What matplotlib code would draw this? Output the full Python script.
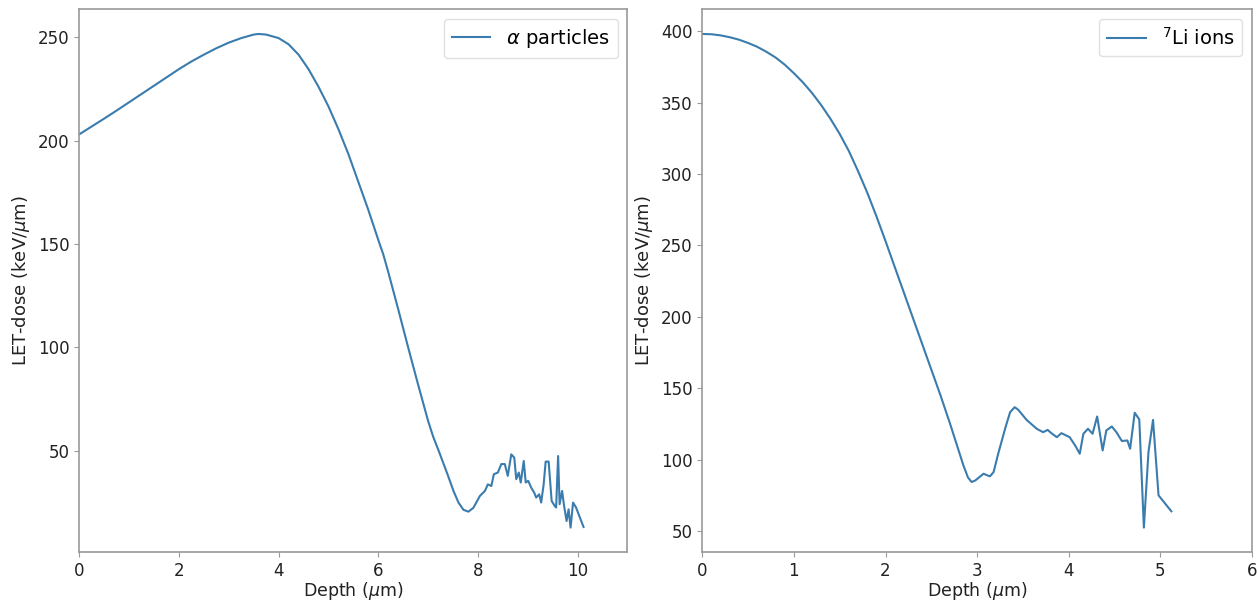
import matplotlib
matplotlib.use("Agg")
import matplotlib.pyplot as plt

# ---- alpha particles data ----
alpha_depth = [0.0, 0.25, 0.5, 0.75, 1.0, 1.25, 1.5, 1.75, 2.0, 2.25, 2.5, 2.75, 3.0, 3.25,
               3.5, 3.6, 3.75, 4.0, 4.2, 4.4, 4.6, 4.8, 5.0, 5.2, 5.4, 5.6, 5.8, 6.0, 6.1,
               6.2, 6.4, 6.6, 6.8, 7.0, 7.1, 7.24, 7.4, 7.51, 7.61, 7.71, 7.81, 7.91, 8.04,
               8.14, 8.20, 8.27, 8.32, 8.40, 8.47, 8.54, 8.60, 8.67, 8.73, 8.77, 8.82, 8.86,
               8.92, 8.96, 9.01, 9.07, 9.13, 9.17, 9.23, 9.27, 9.32, 9.36, 9.42, 9.48, 9.54,
               9.57, 9.61, 9.64, 9.69, 9.73, 9.78, 9.82, 9.86, 9.91, 9.97, 10.12]
alpha_let = [203.0, 206.8, 210.6, 214.5, 218.5, 222.5, 226.5, 230.5, 234.5, 238.2, 241.5,
             244.6, 247.3, 249.5, 251.2, 251.5, 251.2, 249.5, 246.5, 241.5, 234.5, 226.0,
             216.5, 205.5, 193.5, 180.0, 166.5, 152.0, 145.0, 136.5, 118.5, 100.0, 82.0,
             64.5, 57.0, 48.3, 38.0, 30.6, 25.0, 21.5, 20.6, 22.5, 28.2, 30.6, 33.8, 33.0,
             38.7, 39.5, 43.6, 43.6, 37.9, 48.3, 46.7, 36.3, 39.5, 34.7, 45.1, 34.7, 35.5,
             32.2, 29.8, 27.4, 29.0, 25.0, 33.8, 44.8, 44.8, 25.8, 23.4, 22.6, 47.5, 24.2,
             30.6, 23.4, 16.1, 21.7, 12.9, 25.0, 22.6, 13.2]

# ---- 7Li ions data ----
li_depth = [0.0, 0.1, 0.2, 0.3, 0.4, 0.5, 0.6, 0.7, 0.8, 0.9, 1.0, 1.1, 1.2, 1.3, 1.4, 1.5,
            1.6, 1.7, 1.8, 1.9, 2.0, 2.1, 2.2, 2.3, 2.4, 2.5, 2.6, 2.7, 2.78, 2.85, 2.90,
            2.94, 2.98, 3.07, 3.11, 3.14, 3.18, 3.23, 3.31, 3.36, 3.41, 3.45, 3.54, 3.65,
            3.72, 3.77, 3.81, 3.87, 3.92, 4.01, 4.07, 4.12, 4.16, 4.21, 4.26, 4.31, 4.37,
            4.41, 4.47, 4.52, 4.58, 4.64, 4.67, 4.72, 4.77, 4.82, 4.87, 4.92, 4.98, 5.12]
li_let = [398.0, 397.8, 397.0, 395.7, 394.0, 391.7, 389.0, 385.5, 381.5, 376.5, 370.5,
          364.0, 356.5, 348.0, 338.5, 328.0, 316.0, 302.0, 287.0, 270.5, 253.0, 235.0,
          217.0, 199.0, 181.0, 163.0, 145.0, 126.0, 110.0, 96.0, 87.5, 84.3, 85.4, 90.1,
          89.0, 88.3, 91.3, 104.1, 122.7, 133.2, 136.7, 134.8, 127.8, 121.6, 119.2, 120.8,
          118.5, 115.7, 118.5, 115.7, 109.9, 104.1, 118.1, 121.6, 118.1, 130.2, 106.4,
          120.4, 123.2, 119.2, 113.0, 113.4, 107.6, 132.8, 128.1, 52.4, 105.2, 127.8,
          75.0, 63.8]

alpha_label = r"$\alpha$ particles"
li_label = r"$^{7}$Li ions"
x_label = r"Depth ($\mu$m)"
y_label = r"LET-dose (keV/$\mu$m)"

line_color = "#3a7cad"
spine_color = "#9a9a9a"

plt.rcParams["font.family"] = ["DejaVu Sans"]
plt.rcParams["mathtext.fontset"] = "dejavusans"

fig = plt.figure(figsize=(12.57, 6.02), dpi=100)
ax1 = fig.add_axes([0.0631, 0.0826, 0.4360, 0.9020])
ax2 = fig.add_axes([0.5587, 0.0826, 0.4373, 0.9020])

ax1.plot(alpha_depth, alpha_let, color=line_color, lw=1.5, label=alpha_label)
ax2.plot(li_depth, li_let, color=line_color, lw=1.5, label=li_label)

ax1.set_xlim(0, 11)
ax2.set_xlim(0, 6)
ax1.set_xticks([0, 2, 4, 6, 8, 10])
ax1.set_yticks([50, 100, 150, 200, 250])
ax2.set_xticks([0, 1, 2, 3, 4, 5, 6])
ax2.set_yticks([50, 100, 150, 200, 250, 300, 350, 400])

for ax in (ax1, ax2):
    for sp in ax.spines.values():
        sp.set_color(spine_color)
        sp.set_linewidth(1.2)
    ax.tick_params(labelsize=12, colors="#222222", color=spine_color)
    ax.set_xlabel(x_label, fontsize=12.5, color="#222222", labelpad=0)
    ax.set_ylabel(y_label, fontsize=13, color="#222222")
    leg = ax.legend(loc="upper right", fontsize=14, framealpha=0.9)
    leg.get_frame().set_edgecolor("#dddddd")

fig.savefig("out.png", dpi=100)
